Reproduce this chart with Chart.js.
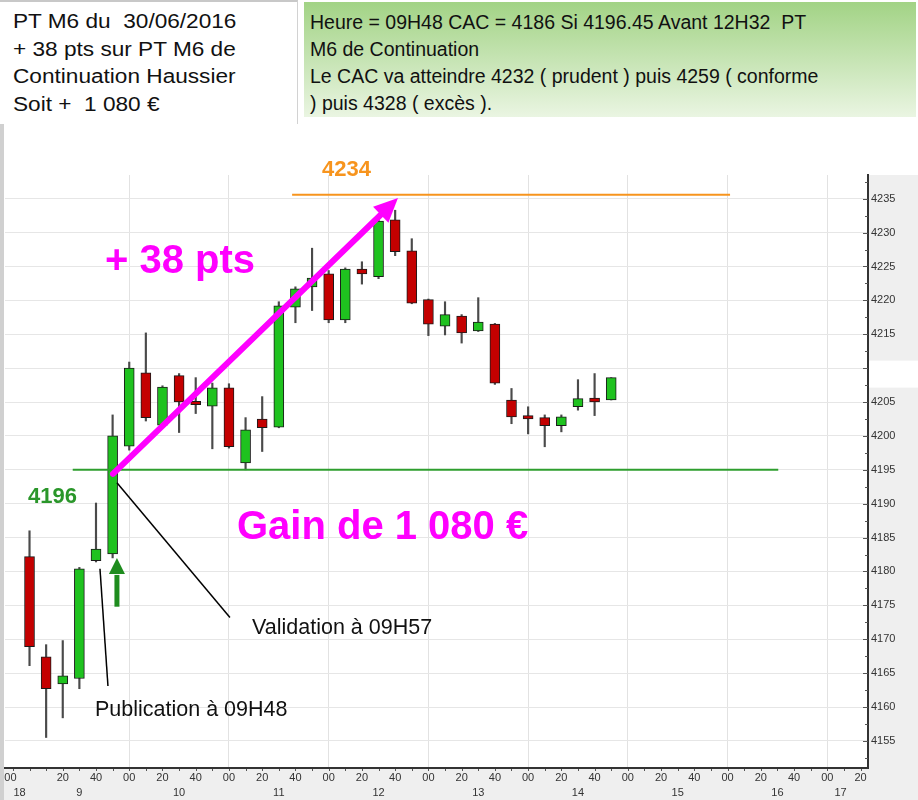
<!DOCTYPE html>
<html><head><meta charset="utf-8">
<script src="https://cdn.jsdelivr.net/npm/chart.js@4"></script>
<style>
html,body{margin:0;padding:0;background:#fff;}
#wrap{position:relative;width:918px;height:800px;overflow:hidden;font-family:'Liberation Sans',Arial,sans-serif;}
#c{position:absolute;left:0;top:0;}
#leftbox{position:absolute;left:0;top:0;width:297px;height:122px;background:#fff;border-right:1px solid #d2d2d2;border-top:2px solid #c8c8c8;}
#leftbox .t{position:absolute;left:13px;top:6px;font-size:19.5px;line-height:27.5px;color:#111;transform:scaleX(1.16);transform-origin:0 0;white-space:nowrap;}
#rightbox{position:absolute;left:304px;top:2px;width:612px;height:115px;background:linear-gradient(#a2d385,#eaf5e2);}
#rightbox .t{position:absolute;left:6px;top:7px;font-size:19.5px;line-height:27px;color:#111;white-space:nowrap;}
</style>
</head><body>
<div id="wrap">
<canvas id="c" width="918" height="800" style="width:918px;height:800px"></canvas>
<div id="leftbox"><div class="t">PT M6 du&nbsp; 30/06/2016<br>+ 38 pts sur PT M6 de<br>Continuation Haussier<br>Soit +&nbsp; 1 080 €</div></div>
<div id="rightbox"><div class="t">Heure = 09H48 CAC = 4186 Si 4196.45 Avant 12H32&nbsp; PT<br>M6 de Continuation<br>Le CAC va atteindre 4232 ( prudent ) puis 4259 ( conforme<br>) puis 4328 ( excès ).</div></div>
</div>
<script>
// ---- data (10-minute candles, 30/06/2016) ----
const times = ['09:00','09:10','09:20','09:30','09:40','09:50','10:00','10:10','10:20','10:30','10:40','10:50',
               '11:00','11:10','11:20','11:30','11:40','11:50','12:00','12:10','12:20','12:30','12:40','12:50',
               '13:00','13:10','13:20','13:30','13:40','13:50','14:00','14:10','14:20','14:30','14:40','14:50'];
const openV  = [4182.2,4167.4,4163.4,4164.2,4181.6,4182.6,4198.5,4209.3,4201.6,4208.9,4205.1,4204.4,
                4207.1,4196.0,4202.5,4201.3,4219.0,4222.0,4223.9,4217.1,4224.6,4223.5,4231.9,4227.3,
                4220.1,4216.2,4217.7,4215.5,4216.5,4205.3,4203.0,4202.7,4201.5,4204.3,4205.6,4205.3];
const highV  = [4186.0,4169.2,4169.8,4180.6,4190.1,4203.1,4210.9,4215.2,4207.4,4209.2,4208.6,4207.8,
                4207.7,4202.7,4205.8,4219.8,4222.0,4227.7,4224.4,4224.8,4225.7,4232.0,4233.3,4229.1,
                4220.2,4219.8,4217.9,4220.4,4216.6,4207.0,4204.3,4203.1,4203.1,4208.3,4209.2,4208.6];
const lowV   = [4166.1,4155.5,4158.4,4162.7,4181.4,4182.0,4197.9,4202.2,4201.3,4200.5,4203.3,4198.1,
                4198.2,4195.0,4197.7,4201.2,4216.7,4218.5,4216.7,4216.7,4222.4,4223.2,4226.6,4219.5,
                4214.8,4214.9,4213.7,4215.4,4207.6,4201.8,4200.3,4198.4,4200.6,4203.8,4203.0,4205.3];
const closeV = [4168.9,4162.7,4164.6,4180.4,4183.3,4200.0,4210.0,4202.7,4207.2,4205.0,4204.6,4207.1,
                4198.4,4200.9,4201.2,4219.2,4221.7,4223.3,4217.1,4224.6,4223.9,4231.7,4227.2,4219.6,
                4216.5,4217.9,4215.2,4216.8,4207.8,4202.8,4202.5,4201.5,4202.8,4205.5,4205.0,4208.6];

// ---- axis ticks (minutes after 09:00) ----
const yTicks = [4155,4160,4165,4170,4175,4180,4185,4190,4195,4200,4205,4210,4215,4220,4225,4230,4235];
const xTickMinutes = [-11.5,20,40,60,80,100,120,140,160,180,200,220,240,260,280,300,320,340,360,380,400,420,440,460,480,500];
const xTickLabels  = ['00','20','40','00','20','40','00','20','40','00','20','40','00','20','40','00','20','40','00','20','40','00','20','40','00','20'];
const hourMinutes = [-6,30,90,150,210,270,330,390,450,488];
const hourLabels  = ['18','9','10','11','12','13','14','15','16','17'];

// ---- annotations (data coordinates: minutes, index points) ----
const supportLevel = 4195, supportSpan = [26, 450.5];
const targetLevel = 4235.6, targetSpan = [158, 421.5];
const gainArrow = [[50.2, 4194.4], [221.7, 4235.1]];
const signalArrow = [[52.6, 4174.8], [52.6, 4182.0]];
const pointerLines = [[[42.4, 4180.4], [47.2, 4163.1]], [[52.6, 4193.1], [120.6, 4173.2]]];
const notes = [
  {text:'+ 38 pts', at:[45.4, 4225.7], kind:'big'},
  {text:'Gain de 1 080 €', at:[124.8, 4186.4], kind:'big'},
  {text:'4234', at:[176.0, 4239.3], kind:'target'},
  {text:'4196', at:[-0.9, 4191.0], kind:'support'},
  {text:'Publication à 09H48', at:[39.4, 4159.6], kind:'note'},
  {text:'Validation à 09H57', at:[133.9, 4171.7], kind:'note'}
];

const toMin = t => { const [h,m] = t.split(':').map(Number); return (h-9)*60 + m; };
const GREEN = '#1fc21f', RED = '#c40000';
const bodies = times.map((t,i) => ({x: toMin(t), y: [openV[i], closeV[i]]}));
const wicks  = times.map((t,i) => ({x: toMin(t), y: [lowV[i], highV[i]]}));
const bodyColors = times.map((t,i) => closeV[i] >= openV[i] ? GREEN : RED);
const FONT = '"Liberation Sans", Arial, sans-serif';

const background = {
  id:'background',
  beforeDraw(chart){
    const {ctx, chartArea:a, width, height} = chart;
    ctx.save();
    ctx.fillStyle = '#fff'; ctx.fillRect(0,0,width,height);
    ctx.fillStyle = '#efefef';
    ctx.fillRect(a.right, a.top, width - a.right, height - a.top);
    ctx.fillRect(0, a.bottom, width, height - a.bottom);
    ctx.fillStyle = '#d0d0d0';
    ctx.fillRect(0, 122, 4, height - 122);
    ctx.restore();
  }
};

const tickMarks = {
  id:'tickMarks',
  afterDraw(chart){
    const {ctx, chartArea:a, scales:{x,y}} = chart;
    ctx.save();
    ctx.strokeStyle = '#555'; ctx.lineWidth = 1;
    ctx.beginPath();
    for (let v = 4152.5; v <= 4237.5; v += 2.5){
      const py = Math.round(y.getPixelForValue(v)) + 0.5;
      const len = (v % 5 === 0) ? 5 : 3;
      ctx.moveTo(a.right - len, py); ctx.lineTo(a.right, py);
    }
    for (let m = -10; m <= 500; m += 10){
      const px = Math.round(x.getPixelForValue(m)) + 0.5;
      ctx.moveTo(px, a.bottom + 1); ctx.lineTo(px, a.bottom + 3);
    }
    ctx.stroke();
    // current price box
    const last = closeV[closeV.length-1];
    const py = y.getPixelForValue(last);
    ctx.fillStyle = '#fff';
    ctx.fillRect(a.right + 1, py - 17, chart.width - a.right - 1, 27);
    ctx.restore();
  }
};

function arrowHead(ctx, x1, y1, x2, y2, len, half){
  const ang = Math.atan2(y2-y1, x2-x1);
  const bx = x2 - len*Math.cos(ang), by = y2 - len*Math.sin(ang);
  ctx.beginPath();
  ctx.moveTo(x2, y2);
  ctx.lineTo(bx + half*Math.sin(ang), by - half*Math.cos(ang));
  ctx.lineTo(bx - half*Math.sin(ang), by + half*Math.cos(ang));
  ctx.closePath(); ctx.fill();
  return [bx, by];
}

const annotations = {
  id:'annotations',
  afterDatasetsDraw(chart){
    const {ctx, scales:{x,y}} = chart;
    const X = m => x.getPixelForValue(m), Y = v => y.getPixelForValue(v);
    ctx.save();
    ctx.strokeStyle = '#2e9e2e'; ctx.lineWidth = 2;
    ctx.beginPath(); ctx.moveTo(X(supportSpan[0]), Y(supportLevel)); ctx.lineTo(X(supportSpan[1]), Y(supportLevel)); ctx.stroke();
    ctx.strokeStyle = '#f7941d'; ctx.lineWidth = 2;
    ctx.beginPath(); ctx.moveTo(X(targetSpan[0]), Y(targetLevel)); ctx.lineTo(X(targetSpan[1]), Y(targetLevel)); ctx.stroke();
    ctx.strokeStyle = '#000'; ctx.lineWidth = 1.5;
    pointerLines.forEach(([p,q]) => {
      ctx.beginPath(); ctx.moveTo(X(p[0]), Y(p[1])); ctx.lineTo(X(q[0]), Y(q[1])); ctx.stroke();
    });
    {
      const x1 = X(gainArrow[0][0]), y1 = Y(gainArrow[0][1]), x2 = X(gainArrow[1][0]), y2 = Y(gainArrow[1][1]);
      ctx.fillStyle = '#ff00ff'; ctx.strokeStyle = '#ff00ff'; ctx.lineWidth = 6; ctx.lineCap = 'round';
      const [bx, by] = arrowHead(ctx, x1, y1, x2, y2, 24, 11);
      ctx.beginPath(); ctx.moveTo(x1, y1); ctx.lineTo(bx, by); ctx.stroke();
      ctx.lineCap = 'butt';
    }
    {
      const x1 = X(signalArrow[0][0]), y1 = Y(signalArrow[0][1]), x2 = X(signalArrow[1][0]), y2 = Y(signalArrow[1][1]);
      ctx.fillStyle = '#1e8c1e'; ctx.strokeStyle = '#1e8c1e'; ctx.lineWidth = 5;
      const [bx, by] = arrowHead(ctx, x1, y1, x2, y2, 16, 8);
      ctx.beginPath(); ctx.moveTo(x1, y1); ctx.lineTo(bx, by + 1); ctx.stroke();
    }
    ctx.textAlign = 'left'; ctx.textBaseline = 'middle';
    notes.forEach(n => {
      if (n.kind === 'big'){ ctx.font = 'bold 40px ' + FONT; ctx.fillStyle = '#ff00ff'; }
      else if (n.kind === 'target'){ ctx.font = 'bold 22px ' + FONT; ctx.fillStyle = '#f7941d'; }
      else if (n.kind === 'support'){ ctx.font = 'bold 22px ' + FONT; ctx.fillStyle = '#2a962a'; }
      else { ctx.font = '21.5px ' + FONT; ctx.fillStyle = '#111'; }
      ctx.fillText(n.text, X(n.at[0]), Y(n.at[1]));
    });
    ctx.restore();
  }
};

new Chart(document.getElementById('c'), {
  type:'bar',
  data:{
    datasets:[
      {label:'corps', data: bodies, backgroundColor: bodyColors, borderColor:'#1a1a1a', borderWidth:1,
       borderSkipped:false, barThickness:10, grouped:false, minBarLength:2},
      {label:'mèches', data: wicks, backgroundColor:'#4a4a4a', borderWidth:0, barThickness:1.5, grouped:false}
    ]
  },
  options:{
    responsive:false, devicePixelRatio:1, animation:false, events:[],
    layout:{padding:{top:175, left:5, right:0, bottom:0}},
    plugins:{legend:{display:false}, tooltip:{enabled:false}},
    scales:{
      x:{type:'linear', position:'bottom', min:-14.75, max:504.5, offset:false,
         afterBuildTicks: s => { s.ticks = xTickMinutes.map(v => ({value:v})); },
         afterFit: s => { s.height = 16; },
         ticks:{autoSkip:false, maxRotation:0, minRotation:0, padding:3, color:'#333', font:{family:FONT, size:11},
                callback:(v, i) => xTickLabels[i]},
         grid:{drawTicks:false, offset:false, lineWidth:1,
               color: c => (c.tick && c.tick.value > 0 && c.tick.value % 60 === 0) ? '#e2e2e2' : 'rgba(0,0,0,0)'},
         border:{display:true, color:'#333', width:2}},
      x2:{type:'linear', position:'bottom', min:-14.75, max:504.5, offset:false,
         afterBuildTicks: s => { s.ticks = hourMinutes.map(v => ({value:v})); },
         afterFit: s => { s.height = 16; },
         ticks:{autoSkip:false, maxRotation:0, minRotation:0, padding:2, color:'#333', font:{family:FONT, size:11},
                callback:(v, i) => hourLabels[i]},
         grid:{display:false, drawTicks:false}, border:{display:false}},
      y:{type:'linear', position:'right', min:4151.0, max:4238.5,
         afterBuildTicks: s => { s.ticks = yTicks.map(v => ({value:v})); },
         afterFit: s => { s.width = 50; },
         ticks:{padding:3, color:'#333', font:{family:FONT, size:11}, callback: v => String(v)},
         grid:{drawTicks:false, color:'#e6e6e6', lineWidth:1},
         border:{display:true, color:'#333', width:2}}
    }
  },
  plugins:[background, tickMarks, annotations]
});
</script>
</body></html>
